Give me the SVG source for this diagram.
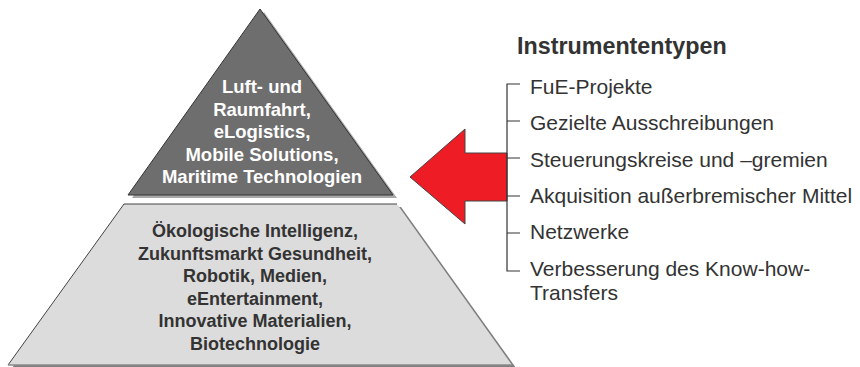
<svg xmlns="http://www.w3.org/2000/svg" width="860" height="367" viewBox="0 0 860 367">
<style>
.pt{font-family:"Liberation Sans",Arial,sans-serif;font-weight:bold;font-size:18px;text-anchor:middle}
.pw{font-size:18.5px}
.li{font-family:"Liberation Sans",Arial,sans-serif;font-size:21px;fill:#333}
.ti{font-family:"Liberation Sans",Arial,sans-serif;font-weight:bold;font-size:23.3px;fill:#333}
.tree{fill:none;stroke:#333;stroke-width:1.2}
</style>
<rect width="860" height="367" fill="#fff"/>
<g id="top-tier">
<polygon points="264,12 397,198 132,198" fill="#a8a8a8"/>
<polygon points="260,9 393,195 128,195" fill="#6e6e6e" stroke="#333" stroke-width="1"/>
<text class="pt pw" fill="#fff"><tspan x="262" y="93">Luft- und</tspan><tspan x="262" y="115.5">Raumfahrt,</tspan><tspan x="262" y="138">eLogistics,</tspan><tspan x="262" y="160.5">Mobile Solutions,</tspan><tspan x="262" y="183">Maritime Technologien</tspan></text>
</g>
<g id="bottom-tier">
<polygon points="128,207 401,207 516,368 12,368" fill="#7f7f7f"/>
<polygon points="124,204 397,204 512,365 8,365" fill="#dcdcdc"/>
<path d="M8,365 L124,204 H397" fill="none" stroke="#444" stroke-width="1"/>
<path d="M8,365 H512" fill="none" stroke="#8a8a8a" stroke-width="1.5"/>
<text class="pt" fill="#333"><tspan x="255" y="237">Ökologische Intelligenz,</tspan><tspan x="255" y="259.5">Zukunftsmarkt Gesundheit,</tspan><tspan x="255" y="282">Robotik, Medien,</tspan><tspan x="255" y="304.5">eEntertainment,</tspan><tspan x="255" y="327">Innovative Materialien,</tspan><tspan x="255" y="349.5">Biotechnologie</tspan></text>
</g>
<g id="arrow">
<polygon points="410,177 465,129 465,153 507,153 507,201 465,201 465,224" fill="#ee1c25" stroke="#444" stroke-width="1"/>
</g>
<g id="connectors">
<path class="tree" d="M520,84 H507 V271 H520 M507,121 H520 M507,158 H520 M507,196 H520 M507,233 H520"/>
</g>
<g id="instruments">
<text class="ti" x="517" y="54">Instrumententypen</text>
<text class="li" x="530" y="94">FuE-Projekte</text>
<text class="li" x="530" y="130">Gezielte Ausschreibungen</text>
<text class="li" x="530" y="167">Steuerungskreise und –gremien</text>
<text class="li" x="530" y="203">Akquisition außerbremischer Mittel</text>
<text class="li" x="530" y="239">Netzwerke</text>
<text class="li" x="530" y="276">Verbesserung des Know-how-</text>
<text class="li" x="530" y="300">Transfers</text>
</g>
</svg>
